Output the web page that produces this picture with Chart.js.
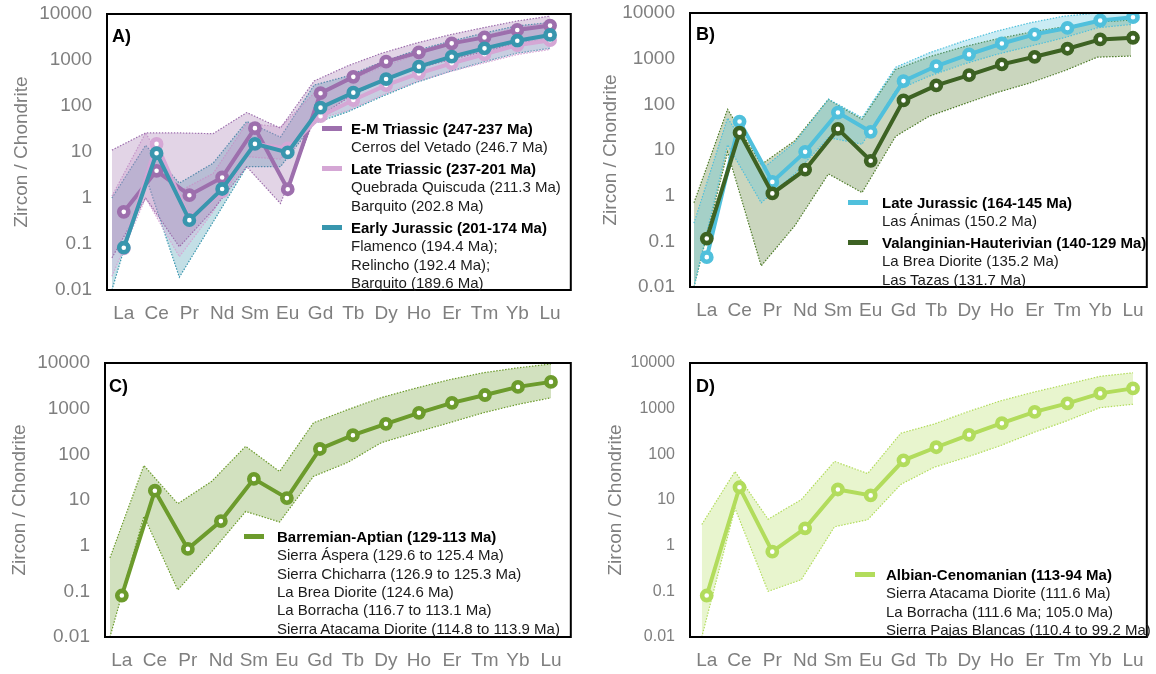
<!DOCTYPE html>
<html>
<head>
<meta charset="utf-8">
<script src="https://cdn.jsdelivr.net/npm/chart.js@4.4.1/dist/chart.umd.min.js"></script>
<style>
  body { margin: 0; background: #fff; width: 1156px; height: 674px; position: relative; overflow: hidden;
         font-family: "Liberation Sans", Arial, sans-serif; }
  canvas { position: absolute; }
  .tag { position: absolute; font-weight: bold; font-size: 18px; line-height: 18px; color: #000; }
  .ln { position: absolute; font-size: 15px; line-height: 18px; height: 18px; color: #1b1b1b; white-space: nowrap; }
  .ln.b { font-weight: bold; color: #000; }
  .sw { position: absolute; width: 20px; height: 5px; }
</style>
</head>
<body>
<script>
// rare earth elements on the x axis
const elements = ["La", "Ce", "Pr", "Nd", "Sm", "Eu", "Gd", "Tb", "Dy", "Ho", "Er", "Tm", "Yb", "Lu"];
const yTicks = [0.01, 0.1, 1, 10, 100, 1000, 10000];

// A) median + min/max envelope
const emTriassic      = [0.5, 3.9, 1.15, 2.8, 33, 1.55, 190, 430, 920, 1470, 2300, 3100, 4500, 5600];
const emTriassicHigh  = [11, 26, 26, 25, 72, 33, 350, 750, 1400, 2300, 3500, 5000, 7000, 9000];
const emTriassicLow   = [0.05, 1.0, 0.087, 0.55, 4.8, 0.76, 50, 150, 350, 650, 1000, 1500, 2300, 2800];
const lateTriassic     = [0.08, 15, 0.35, 1.4, 15, 12, 60, 135, 285, 510, 850, 1330, 2100, 2700];
const lateTriassicHigh = [1.1, 26, 1.4, 3.4, 42, 35, 190, 350, 700, 1300, 2100, 3300, 5000, 6500];
const lateTriassicLow  = [0.02, 1.0, 0.053, 0.5, 7.9, 7, 50, 80, 170, 330, 550, 850, 1300, 1700];
const earlyJurassic     = [0.083, 9.4, 0.33, 1.57, 15, 9.8, 92, 195, 385, 716, 1180, 1790, 2630, 3500];
const earlyJurassicHigh = [1.0, 14, 2.1, 5.7, 46, 21, 285, 450, 900, 1600, 2500, 3800, 5500, 6500];
const earlyJurassicLow  = [0.01, 3, 0.019, 0.3, 4.8, 4.8, 42, 75, 160, 320, 560, 900, 1400, 1800];

// B)
const lateJurassic     = [0.045, 42, 2.0, 9.1, 66, 25, 323, 690, 1240, 2150, 3400, 4700, 6850, 8100];
const lateJurassicHigh = [0.25, 50, 3.7, 14.5, 130, 51, 650, 1340, 2400, 4000, 6100, 8500, 10000, 10000];
const lateJurassicLow  = [0.01, 13, 0.7, 3, 18.7, 13.4, 200, 415, 750, 1240, 1880, 2860, 4730, 5600];
const valHaut     = [0.115, 24, 1.12, 3.7, 29, 5.8, 122, 260, 436, 750, 1100, 1650, 2640, 2870];
const valHautHigh = [0.7, 78, 4.8, 16, 128, 47, 580, 1100, 1800, 2700, 3800, 5000, 6300, 7000];
const valHautLow  = [0.01, 9, 0.029, 0.22, 3.0, 1.17, 20, 55, 100, 180, 295, 535, 1080, 1140];

// C)
const barremAptian     = [0.081, 16, 0.85, 3.45, 29, 11, 131, 262, 465, 810, 1340, 1990, 3000, 3860];
const barremAptianHigh = [0.54, 57, 8.3, 25.6, 150, 42, 490, 950, 1750, 2800, 4300, 6100, 7800, 9500];
const barremAptianLow  = [0.01, 4.4, 0.107, 0.74, 5.6, 3.3, 33, 66, 180, 300, 490, 810, 1230, 1730];

// D)
const albCenom     = [0.081, 19, 0.74, 2.4, 17, 12.6, 74, 143, 268, 480, 850, 1310, 2160, 2780];
const albCenomHigh = [2.9, 42, 3.8, 10.2, 70, 38, 290, 460, 850, 1480, 2300, 3400, 5100, 6100];
const albCenomLow  = [0.01, 6.6, 0.1, 0.18, 2.6, 3.7, 22, 52, 87, 155, 300, 540, 1050, 1250];

const panels = [
  {
    tag: "A)", tagPos: [112, 27],
    canvas: { x: 0, y: 0, w: 580, h: 335 }, area: { l: 107, r: 577, t: 14, b: 290 },
    mk: [124, 556], band: [112, 556], titleX: 22, yFont: 19,
    legend: { swX: 322, txX: 351, y0: 128.5, gap: 4 },
    series: [
      { label: "E-M Triassic (247-237 Ma)", sub: ["Cerros del Vetado (246.7 Ma)"],
        values: emTriassic, high: emTriassicHigh, low: emTriassicLow,
        color: "#9d6fad", fill: "rgba(158,111,173,0.3)" },
      { label: "Late Triassic (237-201 Ma)", sub: ["Quebrada Quiscuda (211.3 Ma)", "Barquito (202.8 Ma)"],
        values: lateTriassic, high: lateTriassicHigh, low: lateTriassicLow,
        color: "#d5a7d5", fill: "rgba(211,166,211,0.3)" },
      { label: "Early Jurassic (201-174 Ma)", sub: ["Flamenco (194.4 Ma);", "Relincho (192.4 Ma);", "Barquito (189.6 Ma)"],
        values: earlyJurassic, high: earlyJurassicHigh, low: earlyJurassicLow,
        color: "#3896ae", fill: "rgba(56,149,173,0.3)" }
    ]
  },
  {
    tag: "B)", tagPos: [696, 25],
    canvas: { x: 580, y: 0, w: 576, h: 335 }, area: { l: 690, r: 1153, t: 13, b: 287 },
    mk: [707, 1139], band: [694, 1137], titleX: 611, yFont: 19,
    legend: { swX: 848, txX: 882, y0: 202.5, gap: 4 },
    series: [
      { label: "Late Jurassic (164-145 Ma)", sub: ["Las Ánimas (150.2 Ma)"],
        values: lateJurassic, high: lateJurassicHigh, low: lateJurassicLow,
        color: "#50c0dc", fill: "rgba(80,192,220,0.3)" },
      { label: "Valanginian-Hauterivian (140-129 Ma)", sub: ["La Brea Diorite (135.2 Ma)", "Las Tazas (131.7 Ma)"],
        values: valHaut, high: valHautHigh, low: valHautLow,
        color: "#3d6223", fill: "rgba(80,120,40,0.3)", edge: "#4f7d2a" }
    ]
  },
  {
    tag: "C)", tagPos: [109, 377],
    canvas: { x: 0, y: 335, w: 580, h: 339 }, area: { l: 105, r: 575, t: 363, b: 637 },
    mk: [122, 555], band: [110, 555], titleX: 20, yFont: 19,
    legend: { swX: 244, txX: 277, y0: 537, gap: 4 },
    series: [
      { label: "Barremian-Aptian (129-113 Ma)",
        sub: ["Sierra Áspera (129.6 to 125.4 Ma)", "Sierra Chicharra (126.9 to 125.3 Ma)", "La Brea Diorite (124.6 Ma)",
              "La Borracha (116.7 to 113.1 Ma)", "Sierra Atacama Diorite (114.8 to 113.9 Ma)"],
        values: barremAptian, high: barremAptianHigh, low: barremAptianLow,
        color: "#6c9b2c", fill: "rgba(107,154,43,0.3)" }
    ]
  },
  {
    tag: "D)", tagPos: [696, 377],
    canvas: { x: 580, y: 335, w: 576, h: 339 }, area: { l: 690, r: 1155, t: 363, b: 637 },
    mk: [707, 1141], band: [702, 1141], titleX: 616, yFont: 16,
    legend: { swX: 855, txX: 886, y0: 575, gap: 4 },
    series: [
      { label: "Albian-Cenomanian (113-94 Ma)",
        sub: ["Sierra Atacama Diorite (111.6 Ma)", "La Borracha (111.6 Ma; 105.0 Ma)", "Sierra Pajas Blancas (110.4 to 99.2 Ma)"],
        values: albCenom, high: albCenomHigh, low: albCenomLow,
        color: "#b2dc5c", fill: "rgba(179,222,92,0.3)" }
    ]
  }
];

// black frame round the plot area
const frame = {
  id: "frame",
  afterDraw(chart) {
    const a = chart.chartArea, c = chart.ctx;
    c.save();
    c.strokeStyle = "#000";
    c.lineWidth = 2;
    c.strokeRect(a.left, a.top, a.right - a.left, a.bottom - a.top);
    c.restore();
  }
};

// axis range so that index 0 and 13 land on the wanted pixels
function range(area, p) {
  const s = (p[1] - p[0]) / (elements.length - 1);
  return { min: -(p[0] - area.l) / s, max: elements.length - 1 + (area.r - p[1]) / s };
}

const pts = arr => arr.map((v, i) => ({ x: i, y: v }));
const LH = 18.3;

function drawPanel(p) {
  const cv = document.createElement("canvas");
  cv.width = p.canvas.w; cv.height = p.canvas.h;
  cv.style.left = p.canvas.x + "px"; cv.style.top = p.canvas.y + "px";
  document.body.appendChild(cv);

  const n = p.series.length;
  const datasets = [];
  p.series.forEach((s, i) => {
    datasets.push({
      data: pts(s.values), xAxisID: "x", borderColor: s.color, borderWidth: 4,
      pointRadius: 4.6, pointBorderWidth: 4.6, pointBackgroundColor: "#fff", pointBorderColor: s.color,
      fill: false, tension: 0, order: n - i
    });
  });
  p.series.forEach((s, i) => {
    const edge = s.edge || s.color;
    datasets.push({
      data: pts(s.high), xAxisID: "xb", borderColor: edge, borderWidth: 1.2, borderDash: [1.5, 1.5],
      pointRadius: 0, fill: "+1", backgroundColor: s.fill, tension: 0, order: 20 + i
    });
    datasets.push({
      data: pts(s.low), xAxisID: "xb", borderColor: edge, borderWidth: 1.2, borderDash: [1.5, 1.5],
      pointRadius: 0, fill: false, tension: 0, order: 20 + i
    });
  });

  const mk = range(p.area, p.mk), bd = range(p.area, p.band);

  new Chart(cv.getContext("2d"), {
    type: "line",
    data: { datasets },
    options: {
      responsive: false, animation: false, devicePixelRatio: 1,
      layout: { padding: { left: 0, top: p.area.t - p.canvas.y, right: p.canvas.x + p.canvas.w - p.area.r, bottom: 0 } },
      plugins: { legend: { display: false }, tooltip: { enabled: false } },
      scales: {
        x: {
          type: "linear", min: mk.min, max: mk.max,
          grid: { display: false, drawTicks: false }, border: { display: false },
          afterBuildTicks: ax => { ax.ticks = elements.map((e, i) => ({ value: i })); },
          ticks: { autoSkip: false, maxRotation: 0, padding: 12, color: "#7f7f7f",
                   font: { family: "Liberation Sans", size: 19 }, callback: v => elements[v] },
          afterFit: s => {
            s.height = p.canvas.y + p.canvas.h - p.area.b;
            s.paddingLeft = 0; s.paddingRight = 0;
          }
        },
        xb: { type: "linear", display: false, min: bd.min, max: bd.max },
        y: {
          type: "logarithmic", min: 0.01, max: 10000,
          grid: { display: false, drawTicks: false }, border: { display: false },
          afterBuildTicks: ax => { ax.ticks = yTicks.map(v => ({ value: v })); },
          ticks: { padding: 15, color: "#7f7f7f", font: { family: "Liberation Sans", size: p.yFont },
                   callback: v => String(v) },
          title: { display: true, text: "Zircon / Chondrite", color: "#7f7f7f",
                   font: { family: "Liberation Sans", size: 19 },
                   padding: { top: p.titleX - p.canvas.x - 11.4, bottom: 0 } },
          afterFit: s => {
            s.width = p.area.l - p.canvas.x;
            s.paddingTop = 0; s.paddingBottom = 0;
          }
        }
      }
    },
    plugins: [frame]
  });

  const tag = document.createElement("div");
  tag.className = "tag"; tag.textContent = p.tag;
  tag.style.left = p.tagPos[0] + "px"; tag.style.top = p.tagPos[1] + "px";
  document.body.appendChild(tag);

  // legend block
  let row = 0;
  p.series.forEach((s, gi) => {
    const yHead = p.legend.y0 + row * LH + gi * p.legend.gap;
    const sw = document.createElement("div");
    sw.className = "sw";
    sw.style.left = p.legend.swX + "px"; sw.style.top = (yHead - 3) + "px"; sw.style.background = s.color;
    document.body.appendChild(sw);
    [s.label].concat(s.sub).forEach((t, k) => {
      const d = document.createElement("div");
      d.className = k === 0 ? "ln b" : "ln";
      d.textContent = t;
      d.style.left = p.legend.txX + "px";
      d.style.top = (yHead + k * LH - 9) + "px";
      document.body.appendChild(d);
    });
    row += 1 + s.sub.length;
  });
}

panels.forEach(drawPanel);
</script>
</body>
</html>
